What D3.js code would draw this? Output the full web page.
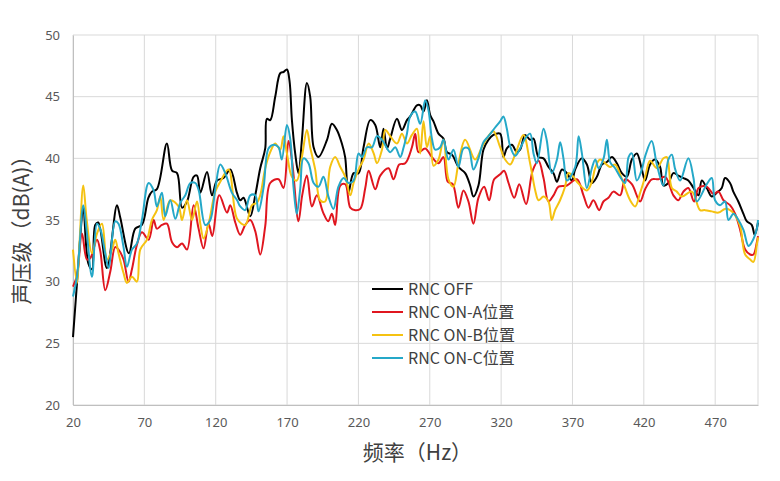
<!DOCTYPE html>
<html>
<head>
<meta charset="utf-8">
<script src="https://cdn.jsdelivr.net/npm/d3@7"></script>
<style>
  body { margin: 0; background: #fff; }
  text { font-family: "Noto Sans CJK SC", "Noto Sans", sans-serif; }
</style>
</head>
<body>
<div id="chart"></div>
<script>
// tick values
const xTicks = [20, 70, 120, 170, 220, 270, 320, 370, 420, 470];
const yTicks = [20, 25, 30, 35, 40, 45, 50];

// series names + colours
const seriesNames = ["RNC OFF", "RNC ON-A位置", "RNC ON-B位置", "RNC ON-C位置"];
const seriesColors = ["#000000", "#e0161f", "#f5c211", "#25a8c8"];

// [frequency Hz, dB(A)]
const rncOff = [[20,25.5],[22.8,29.9],[25,33.5],[27.2,36.0],[30.7,31.5],[33.3,31.0],[35.6,34.6],[37.7,34.8],[43.8,31.1],[50.8,36.2],[53.1,35.2],[59.2,32.3],[63.6,34.3],[68.3,34.6],[72.8,36.8],[75.3,37.3],[78.8,37.5],[85.8,41.2],[89.4,39.0],[92.9,38.8],[96.4,36.0],[99.9,36.5],[104.5,38.5],[106.9,38.6],[109.2,37.2],[113.9,38.9],[117.4,37.0],[120.9,38.2],[125.5,38.4],[130.2,39.1],[134.9,37.2],[137.2,36.6],[139.5,36.8],[144.2,35.3],[147.7,37.0],[151.2,39.2],[154.7,40.8],[155.9,43.2],[158.2,43.1],[161.7,45.0],[165.2,46.9],[167.5,47.0],[169.9,47.2],[171.7,46.3],[173.4,43.1],[175.7,40.4],[178.0,38.8],[180.4,41.5],[183.9,46.1],[186.2,45.0],[188.6,40.9],[192.0,40.1],[198.0,41.5],[201.4,42.8],[204.9,42.3],[208.4,41.2],[210.7,40.1],[213.0,37.2],[216.6,38.8],[220.1,38.8],[223.6,40.9],[228.3,43.1],[231.8,42.7],[235.3,40.9],[237.6,42.4],[240.0,40.8],[242.3,41.6],[247.0,43.2],[250.5,42.3],[254.0,43.1],[256.3,43.4],[261.0,44.3],[263.3,44.3],[265.6,43.8],[268.0,44.7],[270.3,43.5],[272.6,43.0],[276.1,42.0],[279.6,41.6],[282.0,40.5],[285.5,40.3],[290.1,39.3],[294.8,38.8],[298.3,37.8],[300.6,36.9],[304.1,37.8],[307.6,40.7],[311.1,41.5],[314.6,41.9],[319.3,42.0],[321.6,40.1],[324.0,40.8],[327.5,41.1],[331.0,40.5],[333.3,40.7],[336.8,41.9],[340.3,41.5],[342.7,41.6],[346.2,40.1],[349.7,40.0],[353.2,39.3],[356.7,38.8],[359.1,38.1],[362.6,39.1],[366.1,38.8],[369.6,38.2],[371.9,39.1],[376.6,40.0],[380.1,39.5],[383.6,38.0],[387.1,38.5],[390.6,39.5],[394.1,39.7],[397.6,40.1],[401.1,39.6],[404.6,38.8],[408.1,38.5],[411.6,39.9],[415.1,40.4],[418.6,39.1],[420.9,38.2],[424.4,39.5],[427.9,39.9],[431.4,39.3],[433.7,37.8],[437.2,38.0],[440.7,38.8],[444.2,38.6],[447.7,38.4],[451.2,38.2],[454.8,37.6],[458.3,37.0],[460.6,38.2],[464.1,37.6],[467.6,36.9],[471.0,37.2],[474.6,37.6],[476.9,38.4],[480.4,38.0],[482.7,37.3],[486.2,36.5],[489.8,35.5],[492.1,34.9],[495.6,34.6],[497.7,33.8],[500,34.8]];

const rncOnA = [[20,29.6],[22.8,30.5],[26.3,33.9],[29.8,31.8],[32.1,31.9],[36.8,33.4],[39.1,32.5],[42.6,29.3],[46.1,30.8],[49.6,32.8],[51.9,32.6],[55.4,31.8],[58.9,30.0],[61.3,31.0],[64.8,33.0],[68.3,34.0],[73.0,33.4],[76.5,35.0],[78.8,34.3],[82.3,34.6],[85.8,34.7],[89.4,33.2],[92.9,32.8],[96.4,33.1],[99.9,32.6],[104.5,36.2],[108.0,34.3],[111.5,32.7],[115.0,34.7],[117.6,33.7],[122.5,37.0],[127.9,35.6],[130.2,36.2],[133.7,34.8],[137.2,33.8],[140.7,34.6],[144.2,35.0],[147.7,34.1],[151.2,32.2],[154.7,34.5],[158.2,38.0],[164.0,38.3],[167.5,37.6],[171.0,41.4],[173.6,39.7],[178.0,34.9],[180.6,37.0],[183.9,38.6],[187.4,36.1],[190.9,37.0],[195.3,35.6],[198.8,34.9],[201.4,35.5],[203.7,34.6],[207.3,37.8],[210.8,37.9],[214.3,36.0],[217.8,35.8],[221.3,35.9],[224.8,37.6],[227.2,39.0],[231.8,37.5],[235.3,38.6],[241.1,39.2],[244.6,38.3],[248.6,39.5],[252.8,39.6],[257.5,40.9],[259.8,42.0],[262.1,40.5],[266.8,40.8],[271.5,40.1],[276.1,39.6],[279.6,40.1],[282.6,38.1],[286.1,37.9],[290.1,36.0],[293.6,37.4],[297.1,36.5],[300.6,34.7],[304.1,36.8],[308.1,37.7],[311.6,36.6],[315.1,38.3],[319.3,38.7],[322.1,39.0],[325.2,38.0],[329.2,36.8],[332.7,37.9],[337.5,36.3],[342.1,39.0],[346.2,39.8],[349.7,38.4],[353.2,36.5],[356.7,37.0],[360.2,37.7],[366.1,37.8],[373.1,38.3],[377.7,37.0],[381.2,36.0],[384.7,36.6],[388.7,35.8],[391.7,36.5],[395.2,36.8],[398.7,37.3],[403.4,37.0],[406.9,38.3],[411.6,37.9],[417.4,36.5],[420.9,37.5],[425.6,38.3],[430.3,38.3],[435.0,38.5],[440.7,37.0],[444.2,36.6],[447.7,37.3],[451.2,37.6],[455.2,36.5],[458.4,37.6],[464.1,37.7],[468.8,37.1],[472.3,37.3],[475.8,36.6],[480.4,36.2],[484.0,35.5],[487.5,34.2],[491.0,32.6],[494.5,32.2],[496.8,32.2],[499.2,33.2],[500,33.7]];

const rncOnB = [[20,32.6],[22.8,29.9],[24.5,33.0],[27.2,37.8],[29.6,35.0],[33.3,32.3],[36.8,33.9],[40.3,34.7],[43.8,31.8],[47.3,32.6],[49.6,33.4],[51.9,32.3],[55.4,30.7],[57.8,29.9],[61.3,30.4],[64.8,30.0],[67.1,32.6],[71.8,33.4],[75.3,35.0],[78.8,35.8],[81.2,36.9],[83.5,35.0],[88.2,36.6],[94.0,36.1],[96.4,35.0],[99.9,36.6],[103.4,35.0],[106.9,36.5],[109.2,34.7],[111.5,33.5],[115.0,34.7],[119.7,37.3],[123.2,38.1],[129.0,39.1],[135.0,35.1],[140.7,34.6],[145.4,36.2],[148.9,36.4],[151.2,37.0],[154.7,39.2],[158.2,40.5],[161.7,41.2],[165.2,40.7],[167.5,41.8],[169.9,40.4],[173.4,38.5],[176.8,38.2],[180.4,40.1],[183.9,42.3],[186.2,40.9],[189.7,39.1],[193.2,36.6],[196.7,36.5],[200.2,39.3],[203.7,40.1],[207.3,39.3],[210.8,38.5],[214.3,37.0],[216.6,38.0],[220.1,39.1],[223.6,39.9],[227.2,41.2],[230.7,40.4],[233.0,39.6],[236.5,40.7],[238.9,42.3],[242.3,41.8],[247.0,41.2],[250.5,42.0],[254.0,41.2],[257.5,41.9],[261.0,42.4],[263.3,40.4],[265.6,43.0],[268.0,40.9],[270.3,41.8],[272.6,39.4],[276.1,39.9],[279.6,41.5],[283.1,38.3],[286.6,37.7],[290.1,39.6],[294.8,41.5],[301.8,39.9],[306.5,40.9],[311.1,41.8],[314.6,42.2],[319.3,40.9],[322.8,39.9],[326.3,39.5],[329.8,40.3],[335.6,41.9],[340.3,39.6],[343.9,37.4],[346.2,36.6],[349.7,36.9],[353.2,36.5],[355.5,35.0],[357.8,35.8],[361.3,36.6],[364.8,37.7],[367.2,38.8],[370.7,38.5],[373.1,38.1],[380.1,37.4],[383.6,38.1],[385.9,39.2],[389.3,39.9],[396.4,39.3],[399.9,39.5],[403.4,38.7],[406.9,37.6],[410.4,36.6],[413.9,36.1],[417.4,37.2],[420.9,38.5],[424.4,39.8],[429.1,39.2],[433.7,40.0],[436.1,40.1],[439.6,37.6],[443.1,37.3],[446.6,36.9],[453.6,37.3],[459.4,35.8],[462.9,35.8],[467.6,35.7],[472.3,35.6],[476.9,35.9],[480.4,35.8],[483.9,35.4],[487.5,34.5],[491.0,32.2],[494.5,31.8],[496.8,31.6],[499.2,33.0],[500,33.6]];

const rncOnC = [[20,28.8],[22.8,30.4],[27.2,36.2],[29.5,34.2],[33.3,30.4],[36.8,34.7],[39.3,34.2],[42.6,32.3],[45.0,31.1],[49.6,34.9],[51.9,34.7],[55.4,32.8],[57.8,31.2],[61.3,32.6],[64.8,33.1],[68.3,35.0],[73.0,38.0],[76.5,37.4],[78.8,36.1],[82.3,37.2],[84.6,35.3],[88.2,36.6],[91.7,35.1],[95.2,36.4],[98.7,37.0],[102.2,38.0],[105.7,38.0],[108.1,37.4],[112.7,34.6],[116.2,35.0],[119.7,37.5],[123.2,39.5],[126.7,38.8],[131.4,37.2],[135.0,36.6],[137.2,36.1],[140.7,35.8],[144.2,37.0],[147.7,37.0],[150.0,35.7],[153.5,37.6],[157.0,40.8],[160.5,41.1],[164.0,40.9],[166.3,39.9],[169.9,42.7],[172.2,41.6],[174.5,37.7],[176.8,35.5],[179.2,37.5],[181.5,40.0],[185.0,39.6],[188.6,38.0],[192.0,37.7],[195.5,38.5],[199.0,36.9],[202.5,35.9],[206.0,37.7],[209.6,38.4],[213.1,38.0],[216.6,38.2],[220.1,40.4],[222.5,40.1],[226.0,40.9],[229.5,40.9],[233.0,41.8],[236.5,41.5],[242.3,40.5],[245.8,40.9],[249.3,40.1],[251.7,40.9],[254.0,42.0],[256.3,43.4],[259.8,43.8],[263.3,42.8],[266.8,44.7],[269.1,43.9],[271.5,41.6],[273.8,40.7],[277.3,40.9],[279.6,41.5],[283.1,39.9],[286.6,40.7],[290.1,39.3],[293.6,40.8],[297.1,40.8],[300.6,39.1],[304.1,40.0],[307.6,41.3],[311.1,41.8],[315.8,42.5],[319.3,43.0],[321.6,43.4],[324.0,42.4],[326.3,41.0],[329.8,40.2],[333.3,40.8],[336.8,41.6],[340.3,42.0],[342.7,40.4],[345.0,39.6],[349.7,42.4],[351.9,41.5],[355.5,38.8],[359.1,39.9],[361.4,41.3],[363.8,39.9],[366.1,38.2],[371.9,39.3],[374.3,41.8],[376.6,40.4],[380.1,37.6],[383.6,39.2],[386.0,39.9],[388.3,39.2],[391.8,40.0],[394.1,41.5],[396.4,39.7],[399.9,39.2],[403.4,38.5],[406.9,38.0],[409.3,40.1],[411.6,40.4],[415.1,38.2],[418.6,39.1],[421.0,40.2],[425.5,41.4],[429.1,39.5],[433.7,37.8],[437.2,39.9],[439.6,40.3],[442.0,39.1],[445.4,38.2],[451.2,40.0],[454.8,38.4],[457.1,36.5],[464.1,37.9],[467.6,38.4],[469.9,36.6],[473.4,36.2],[476.9,36.5],[479.3,35.0],[482.8,35.5],[486.3,35.0],[489.8,34.2],[493.3,32.9],[495.6,33.2],[499.2,34.3],[500,35.0]];

const allSeries = [rncOff, rncOnA, rncOnB, rncOnC];

// set the dimensions and margins of the graph
const margin = {top: 35, right: 22, bottom: 76, left: 73},
  width = 780 - margin.left - margin.right,
  height = 481 - margin.top - margin.bottom;

const svg = d3.select("#chart")
  .append("svg")
  .attr("width", 780)
  .attr("height", 481)
  .append("g")
  .attr("transform", `translate(${margin.left},${margin.top})`);

const x = d3.scaleLinear().domain([20, 500]).range([0, width]);
const y = d3.scaleLinear().domain([20, 50]).range([height, 0]);

// gridlines
svg.append("g")
  .selectAll("line.h")
  .data(yTicks)
  .join("line")
  .attr("x1", 0).attr("x2", width)
  .attr("y1", d => y(d)).attr("y2", d => y(d))
  .attr("stroke", "#d9d9d9");

svg.append("g")
  .selectAll("line.v")
  .data(xTicks.concat([500]))
  .join("line")
  .attr("x1", d => x(d)).attr("x2", d => x(d))
  .attr("y1", 0).attr("y2", height)
  .attr("stroke", "#d9d9d9");

// axes
const xAxis = svg.append("g")
  .attr("transform", `translate(0,${height})`)
  .call(d3.axisBottom(x).tickValues(xTicks).tickSize(0).tickPadding(13));
const yAxis = svg.append("g")
  .call(d3.axisLeft(y).tickValues(yTicks).tickSize(0).tickPadding(13));

[xAxis, yAxis].forEach(a => {
  a.select(".domain").attr("stroke", "#bfbfbf");
  a.selectAll("text")
    .attr("fill", "#595959")
    .style("font-size", "13px")
    .style("font-family", "'Noto Sans', sans-serif");
});

// the lines
const line = d3.line()
  .x(d => x(d[0]))
  .y(d => y(d[1]))
  .curve(d3.curveCatmullRom.alpha(0.5));

allSeries.forEach((data, i) => {
  svg.append("path")
    .datum(data)
    .attr("fill", "none")
    .attr("stroke", seriesColors[i])
    .attr("stroke-width", 2)
    .attr("stroke-linejoin", "round")
    .attr("d", line);
});

// legend
const legend = svg.append("g")
  .attr("transform", `translate(${372 - margin.left},${289 - margin.top})`);
seriesNames.forEach((name, i) => {
  const row = legend.append("g").attr("transform", `translate(0,${i * 23})`);
  row.append("line")
    .attr("x1", 0).attr("x2", 31)
    .attr("stroke", seriesColors[i])
    .attr("stroke-width", 2);
  row.append("text")
    .attr("x", 36)
    .attr("dy", "0.35em")
    .attr("fill", "#404040")
    .style("font-size", "16px")
    .text(name);
});

// axis titles
svg.append("text")
  .attr("x", width / 2 + 2)
  .attr("y", height + 55)
  .attr("text-anchor", "middle")
  .attr("fill", "#404040")
  .style("font-size", "21px")
  .text("频率（Hz）");

svg.append("text")
  .attr("transform", `translate(${-44},${height / 2 + 5}) rotate(-90)`)
  .attr("text-anchor", "middle")
  .attr("fill", "#404040")
  .style("font-size", "21px")
  .text("声压级（dB(A)）");
</script>
</body>
</html>
